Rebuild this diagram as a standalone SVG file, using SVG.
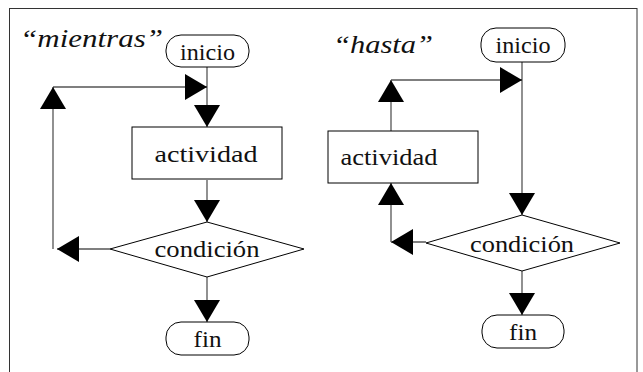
<svg xmlns="http://www.w3.org/2000/svg" width="643" height="372" viewBox="0 0 643 372">
<style>
.node{fill:#fff;stroke:#000;stroke-width:1}
.lbl{font-size:24px;fill:#111;text-anchor:middle}
.title{font-size:26px;font-style:italic;fill:#111}
.v{fill:none;stroke:#555;stroke-width:1.3}
.h{fill:none;stroke:#000;stroke-width:1.2}
</style>
<defs>
<marker id="ah" viewBox="0 0 22 26" refX="22" refY="13" markerWidth="22" markerHeight="26" markerUnits="userSpaceOnUse" orient="auto">
<path d="M0,0 L22,13 L0,26 Z" fill="#000"/>
</marker>
</defs>
<rect x="9.5" y="8.5" width="627.5" height="380" fill="none" stroke="#333" stroke-width="1"/>
<g font-family="Liberation Serif, Tinos, Times New Roman, Nimbus Roman, FreeSerif, DejaVu Serif, serif">
<text class="title" x="20" y="47" textLength="143" lengthAdjust="spacingAndGlyphs">“mientras”</text>
<text class="title" x="333" y="53" textLength="100" lengthAdjust="spacingAndGlyphs">“hasta”</text>
<g id="connectors">
<path class="v" d="M207,67 V127" marker-end="url(#ah)"/>
<path class="v" d="M207,180 V222" marker-end="url(#ah)"/>
<path class="h" d="M110,249 H57" marker-end="url(#ah)"/>
<path class="v" d="M53,249 V87" marker-end="url(#ah)"/>
<path class="h" d="M53,87 H207" marker-end="url(#ah)"/>
<path class="v" d="M207,277 V322" marker-end="url(#ah)"/>
<path class="v" d="M522,62 V215" marker-end="url(#ah)"/>
<path class="h" d="M391,80 H522" marker-end="url(#ah)"/>
<path class="v" d="M391,131 V80" marker-end="url(#ah)"/>
<path class="h" d="M426,242 H391" marker-end="url(#ah)"/>
<path class="v" d="M391,242 V183" marker-end="url(#ah)"/>
<path class="v" d="M522,271 V315" marker-end="url(#ah)"/>
</g>
<g id="m-inicio">
<rect class="node" x="166" y="35" width="83" height="32" rx="15"/>
<text class="lbl" x="207.5" y="60" textLength="55" lengthAdjust="spacingAndGlyphs">inicio</text>
</g>
<g id="m-actividad">
<rect class="node" x="132" y="127" width="150" height="52"/>
<text class="lbl" x="206" y="162" textLength="103" lengthAdjust="spacingAndGlyphs">actividad</text>
</g>
<g id="m-condicion">
<polygon class="node" points="207,222 304,249 207,277 110,249"/>
<text class="lbl" x="207" y="257" textLength="105" lengthAdjust="spacingAndGlyphs">condición</text>
</g>
<g id="m-fin">
<rect class="node" x="166" y="322" width="83" height="33" rx="15"/>
<text class="lbl" x="207.5" y="347" textLength="28" lengthAdjust="spacingAndGlyphs">fin</text>
</g>
<g id="h-inicio">
<rect class="node" x="481" y="28" width="84" height="34" rx="15"/>
<text class="lbl" x="523" y="53" textLength="55" lengthAdjust="spacingAndGlyphs">inicio</text>
</g>
<g id="h-actividad">
<rect class="node" x="328" y="131" width="150" height="52"/>
<text class="lbl" x="389" y="165" textLength="97" lengthAdjust="spacingAndGlyphs">actividad</text>
</g>
<g id="h-condicion">
<polygon class="node" points="522,215 620,243 522,271 426,243"/>
<text class="lbl" x="522" y="252" textLength="104" lengthAdjust="spacingAndGlyphs">condición</text>
</g>
<g id="h-fin">
<rect class="node" x="482" y="315" width="82" height="33" rx="15"/>
<text class="lbl" x="523" y="340" textLength="28" lengthAdjust="spacingAndGlyphs">fin</text>
</g>
</g>
</svg>
